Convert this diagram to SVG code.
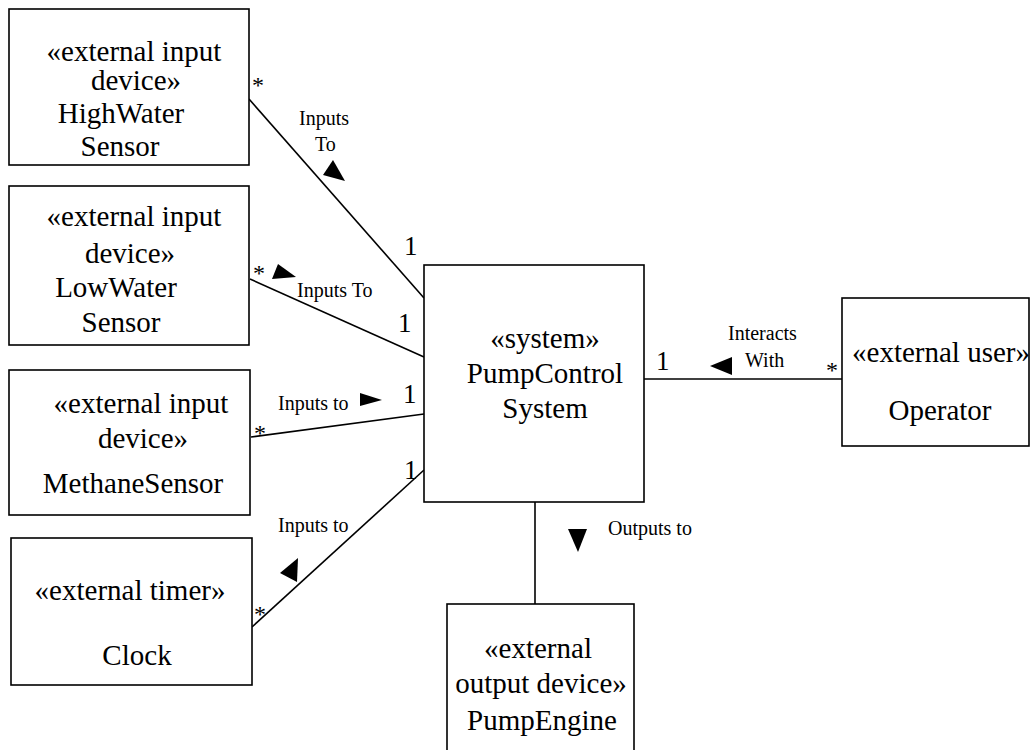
<svg xmlns="http://www.w3.org/2000/svg" width="1036" height="750" viewBox="0 0 1036 750">
  <style>
    .box { fill: #ffffff; stroke: #000000; stroke-width: 1.6; }
    .line { stroke: #000000; stroke-width: 1.6; fill: none; }
    .head { fill: #000000; }
    .name { font-size: 29px; text-anchor: middle; }
    .lbl { font-size: 20px; }
    .mult { font-size: 27px; }
    .star { font-size: 24px; }
  </style>
  <rect width="1036" height="750" fill="#ffffff"/>

  <g font-family="Liberation Serif, Times New Roman, serif" fill="#000000">
  <!-- associations -->
  <g id="connectors">
    <line class="line" x1="249" y1="99" x2="424" y2="298"/>
    <line class="line" x1="250" y1="279" x2="424" y2="357"/>
    <line class="line" x1="251" y1="437" x2="424" y2="414"/>
    <line class="line" x1="252" y1="627" x2="424" y2="470"/>
    <line class="line" x1="644" y1="379" x2="842" y2="379"/>
    <line class="line" x1="535" y1="502" x2="535" y2="604"/>

    <!-- direction triangles -->
    <polygon class="head" points="333,160 323,175 345,181"/>
    <polygon class="head" points="278,264 272,279 296,277"/>
    <polygon class="head" points="360,393 360,406 382,400"/>
    <polygon class="head" points="298,558 280,573 297,582"/>
    <polygon class="head" points="710,366 732,357 732,375"/>
    <polygon class="head" points="568,529 587,529 578,552"/>

    <!-- association names -->
    <text class="lbl" x="299" y="125">Inputs</text>
    <text class="lbl" x="315" y="151">To</text>
    <text class="lbl" x="297" y="297">Inputs To</text>
    <text class="lbl" x="278" y="410">Inputs to</text>
    <text class="lbl" x="278" y="532">Inputs to</text>
    <text class="lbl" x="728" y="340">Interacts</text>
    <text class="lbl" x="745" y="367">With</text>
    <text class="lbl" x="608" y="535">Outputs to</text>

    <!-- multiplicities -->
    <text class="star" x="252" y="93">*</text>
    <text class="mult" x="404" y="255">1</text>
    <text class="star" x="253" y="281">*</text>
    <text class="mult" x="398" y="332">1</text>
    <text class="star" x="254" y="441">*</text>
    <text class="mult" x="403" y="403">1</text>
    <text class="mult" x="404" y="479">1</text>
    <text class="star" x="254" y="622">*</text>
    <text class="mult" x="656" y="370">1</text>
    <text class="star" x="826" y="378">*</text>
  </g>

  <g id="highWaterSensor">
    <rect class="box" x="9" y="9" width="240" height="156"/>
    <text class="name" x="134" y="61">«external input</text>
    <text class="name" x="136" y="90">device»</text>
    <text class="name" x="121" y="123">HighWater</text>
    <text class="name" x="120" y="156">Sensor</text>
  </g>

  <g id="lowWaterSensor">
    <rect class="box" x="9" y="186" width="240" height="159"/>
    <text class="name" x="134" y="226">«external input</text>
    <text class="name" x="130" y="263">device»</text>
    <text class="name" x="116" y="297">LowWater</text>
    <text class="name" x="121" y="332">Sensor</text>
  </g>

  <g id="methaneSensor">
    <rect class="box" x="9" y="370" width="241" height="145"/>
    <text class="name" x="141" y="413">«external input</text>
    <text class="name" x="143" y="448">device»</text>
    <text class="name" x="133" y="493">MethaneSensor</text>
  </g>

  <g id="clock">
    <rect class="box" x="11" y="538" width="241" height="147"/>
    <text class="name" x="130" y="600">«external timer»</text>
    <text class="name" x="137" y="665">Clock</text>
  </g>

  <g id="pumpControlSystem">
    <rect class="box" x="424" y="265" width="220" height="237"/>
    <text class="name" x="545" y="348">«system»</text>
    <text class="name" x="545" y="383">PumpControl</text>
    <text class="name" x="545" y="418">System</text>
  </g>

  <g id="operator">
    <rect class="box" x="842" y="298" width="187" height="148"/>
    <text class="name" x="941" y="362">«external user»</text>
    <text class="name" x="940" y="420">Operator</text>
  </g>

  <g id="pumpEngine">
    <rect class="box" x="447" y="604" width="187" height="160"/>
    <text class="name" x="538" y="658">«external</text>
    <text class="name" x="541" y="693">output device»</text>
    <text class="name" x="542" y="730">PumpEngine</text>
  </g>
  </g>
</svg>
